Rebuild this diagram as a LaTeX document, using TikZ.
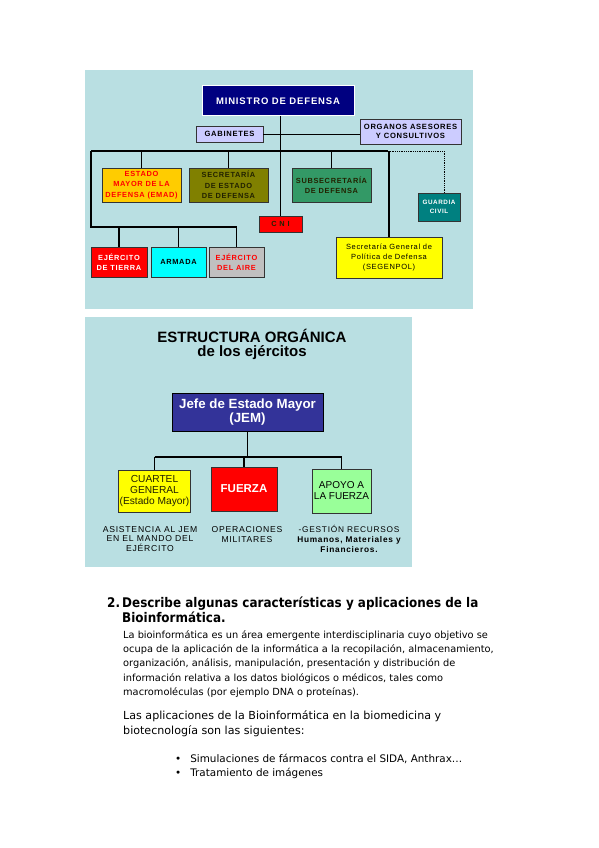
\documentclass[tikz,border=0pt]{standalone}
\usepackage{fontspec}
\setmainfont{DejaVu Sans}
\newfontfamily\arialf{Liberation Sans}
\newfontfamily\arialsp[LetterSpace=9]{Liberation Sans}
\newfontfamily\headf[FakeStretch=0.9]{DejaVu Sans}
\usepackage{tikz}
\usetikzlibrary{positioning,calc}
\definecolor{pnlbg}{HTML}{B9DFE2}
\definecolor{minnavy}{HTML}{000080}
\definecolor{lavbox}{HTML}{CCCCFF}
\definecolor{goldbox}{HTML}{FFCC00}
\definecolor{olivebox}{HTML}{808000}
\definecolor{seabox}{HTML}{339966}
\definecolor{tealbox}{HTML}{008080}
\definecolor{redbox}{HTML}{FF0000}
\definecolor{cyanbox}{HTML}{00FFFF}
\definecolor{graybox}{HTML}{C0C0C0}
\definecolor{yelbox}{HTML}{FFFF00}
\definecolor{jembox}{HTML}{333399}
\definecolor{grnbox}{HTML}{99FF99}
\definecolor{darktxt}{HTML}{222200}

\begin{document}
\begin{tikzpicture}[x=1pt, y=-1pt,
  font=\arialf,
  org/.style={draw=black!80, line width=0.9pt, fill=#1, align=center,
              inner sep=1pt, font=\arialsp\bfseries\fontsize{7.4}{10.3}\selectfont},
  org/.default=white,
  conn/.style={line width=1.4pt, draw=black},
  lbl/.style={align=center, inner sep=0pt, font=\arialsp\fontsize{8.6}{9.7}\selectfont},
  tbody/.style={anchor=north west, inner sep=0pt, align=left},
]
  \useasboundingbox[fill=white] (0,0) rectangle (599,848);

  % ministerio
  \fill[pnlbg] (85,70) rectangle (473,309);
  \node[org=minnavy, draw=white, line width=1pt, minimum width=152, minimum height=30,
        text=white, font=\arialsp\bfseries\fontsize{9.5}{11}\selectfont] (min) at (278,101)
    {MINISTRO DE DEFENSA};
  \node[org=lavbox, minimum width=67, minimum height=16,
        font=\arialsp\bfseries\fontsize{7.6}{8}\selectfont] (gab) at (229.5,134) {GABINETES};
  \node[org=lavbox, minimum width=101, minimum height=25,
        font=\arialsp\bfseries\fontsize{7.6}{9}\selectfont] (orgs) at (410.5,131.5)
    {ORGANOS ASESORES\\Y CONSULTIVOS};
  \node[org=goldbox, minimum width=79, minimum height=34, text=red] (emad) at (141.5,185)
    {ESTADO\\MAYOR DE LA\\DEFENSA (EMAD)};
  \node[org=olivebox, minimum width=79, minimum height=34, text=darktxt] (secest) at (228.5,185)
    {SECRETARÍA\\DE ESTADO\\DE DEFENSA};
  \node[org=seabox, minimum width=79, minimum height=34, text=darktxt] (subsec) at (331.5,185)
    {SUBSECRETARÍA\\DE DEFENSA};
  \node[org=redbox, minimum width=43, minimum height=16, text=darktxt] (cni) at (280.5,224)
    {C N I};
  \node[org=tealbox, minimum width=42, minimum height=28, text=white,
        font=\arialsp\bfseries\fontsize{6.3}{8.5}\selectfont] (guardia) at (439,207)
    {GUARDIA\\CIVIL};
  \node[org=redbox, minimum width=56, minimum height=30, text=white] (tierra) at (119,262)
    {EJÉRCITO\\DE TIERRA};
  \node[org=cyanbox, minimum width=55, minimum height=30, text=black] (armada) at (178.5,262)
    {ARMADA};
  \node[org=graybox, minimum width=55, minimum height=30, text=red] (aire) at (236.5,262)
    {EJÉRCITO\\DEL AIRE};
  \node[org=yelbox, minimum width=106, minimum height=41, text=black,
        font=\arialsp\fontsize{7.5}{10}\selectfont] (segen) at (389,257.5)
    {Secretaría General de\\Política de Defensa\\(SEGENPOL)};

  \coordinate (barL) at (91,151);
  \coordinate (barR) at (388,151);
  \coordinate (dotR) at (444,151);
  \coordinate (lowL) at (91,227);

  \draw[conn] (cni.north |- min.south) -- (cni.north);
  \draw[line width=0.9pt] (gab.east) -- (gab.east -| orgs.west);
  \draw[conn] (barL) -- (barR);
  \draw[densely dotted, line width=0.8pt] (barR) -- (dotR) -- (dotR |- guardia.north);
  \foreach \n in {emad, secest, subsec, segen}
    \draw[conn] (\n.north |- barL) -- (\n.north);
  \draw[conn] (barL) -- (lowL) -- (lowL -| aire.north);
  \foreach \n in {tierra, armada, aire}
    \draw[conn] (\n.north |- lowL) -- (\n.north);

  % ejercitos
  \fill[pnlbg] (85,317) rectangle (412,567);
  \node[font=\arialf\bfseries\fontsize{15}{16}\selectfont, inner sep=0pt] (tit1) at (252,336)
    {ESTRUCTURA ORGÁNICA};
  \node[font=\arialf\bfseries\fontsize{15}{16}\selectfont, inner sep=0pt] (tit2) at (252,353)
    {de los ejércitos};
  \node[org=jembox, draw=black, line width=1pt, minimum width=151, minimum height=38,
        text=white, font=\arialf\bfseries\fontsize{13.3}{14.5}\selectfont] (jem) at (247.5,412)
    {Jefe de Estado Mayor\\(JEM)};
  \node[org=yelbox, minimum width=71, minimum height=42, text=darktxt,
        font=\arialf\fontsize{10.2}{11.2}\selectfont] (cuartel) at (154.5,491)
    {CUARTEL\\GENERAL\\(Estado Mayor)};
  \node[org=redbox, minimum width=66, minimum height=44, text=white,
        font=\arialf\bfseries\fontsize{11.5}{12}\selectfont] (fuerza) at (244,489)
    {FUERZA};
  \node[org=grnbox, minimum width=59, minimum height=44, text=black,
        font=\arialf\fontsize{10}{11}\selectfont] (apoyo) at (341.5,491)
    {APOYO A\\LA FUERZA};
  \node[lbl] (asist) at (150,539)
    {ASISTENCIA AL JEM\\EN EL MANDO DEL\\EJÉRCITO};
  \node[lbl] (oper) at (247,534.5)
    {OPERACIONES\\MILITARES};
  \node[lbl, font=\arialsp\fontsize{8.3}{9.7}\selectfont] (gest) at (349,539)
    {-GESTIÓN RECURSOS\\{\bfseries Humanos, Materiales y}\\{\bfseries Financieros.}};

  \coordinate (jbar) at (247.5,457);
  \draw[line width=1.1pt] (jem.south) -- (jbar);
  \draw[line width=1.1pt] (jbar -| cuartel.north) -- (jbar -| apoyo.north);
  \foreach \n in {cuartel, fuerza, apoyo}
    \draw[line width=1.1pt] (\n.north |- jbar) -- (\n.north);

  % texto
  \node[anchor=base west, inner sep=0pt, font=\headf\bfseries\fontsize{13.3}{15}\selectfont] (num) at (107,607.5) {2.};
  \node[tbody, font=\headf\bfseries\fontsize{13.3}{15}\selectfont] (head) at (122,597)
    {Describe algunas características y aplicaciones de la\\Bioinformática.};
  \node[tbody, font=\fontsize{9.8}{14.4}\selectfont] (par1) at (123,630)
    {La bioinformática es un área emergente interdisciplinaria cuyo objetivo se\\
     ocupa de la aplicación de la informática a la recopilación, almacenamiento,\\
     organización, análisis, manipulación, presentación y distribución de\\
     información relativa a los datos biológicos o médicos, tales como\\
     macromoléculas (por ejemplo DNA o proteínas).};
  \node[tbody, font=\fontsize{11.1}{15}\selectfont] (par2) at (123,710)
    {Las aplicaciones de la Bioinformática en la biomedicina y\\biotecnología son las siguientes:};
  \node[tbody, font=\fontsize{10.4}{13.5}\selectfont] (items) at (175,754)
    {\textbullet\hspace{9pt}Simulaciones de fármacos contra el SIDA, Anthrax…\\
     \textbullet\hspace{9pt}Tratamiento de imágenes};
\end{tikzpicture}
\end{document}
